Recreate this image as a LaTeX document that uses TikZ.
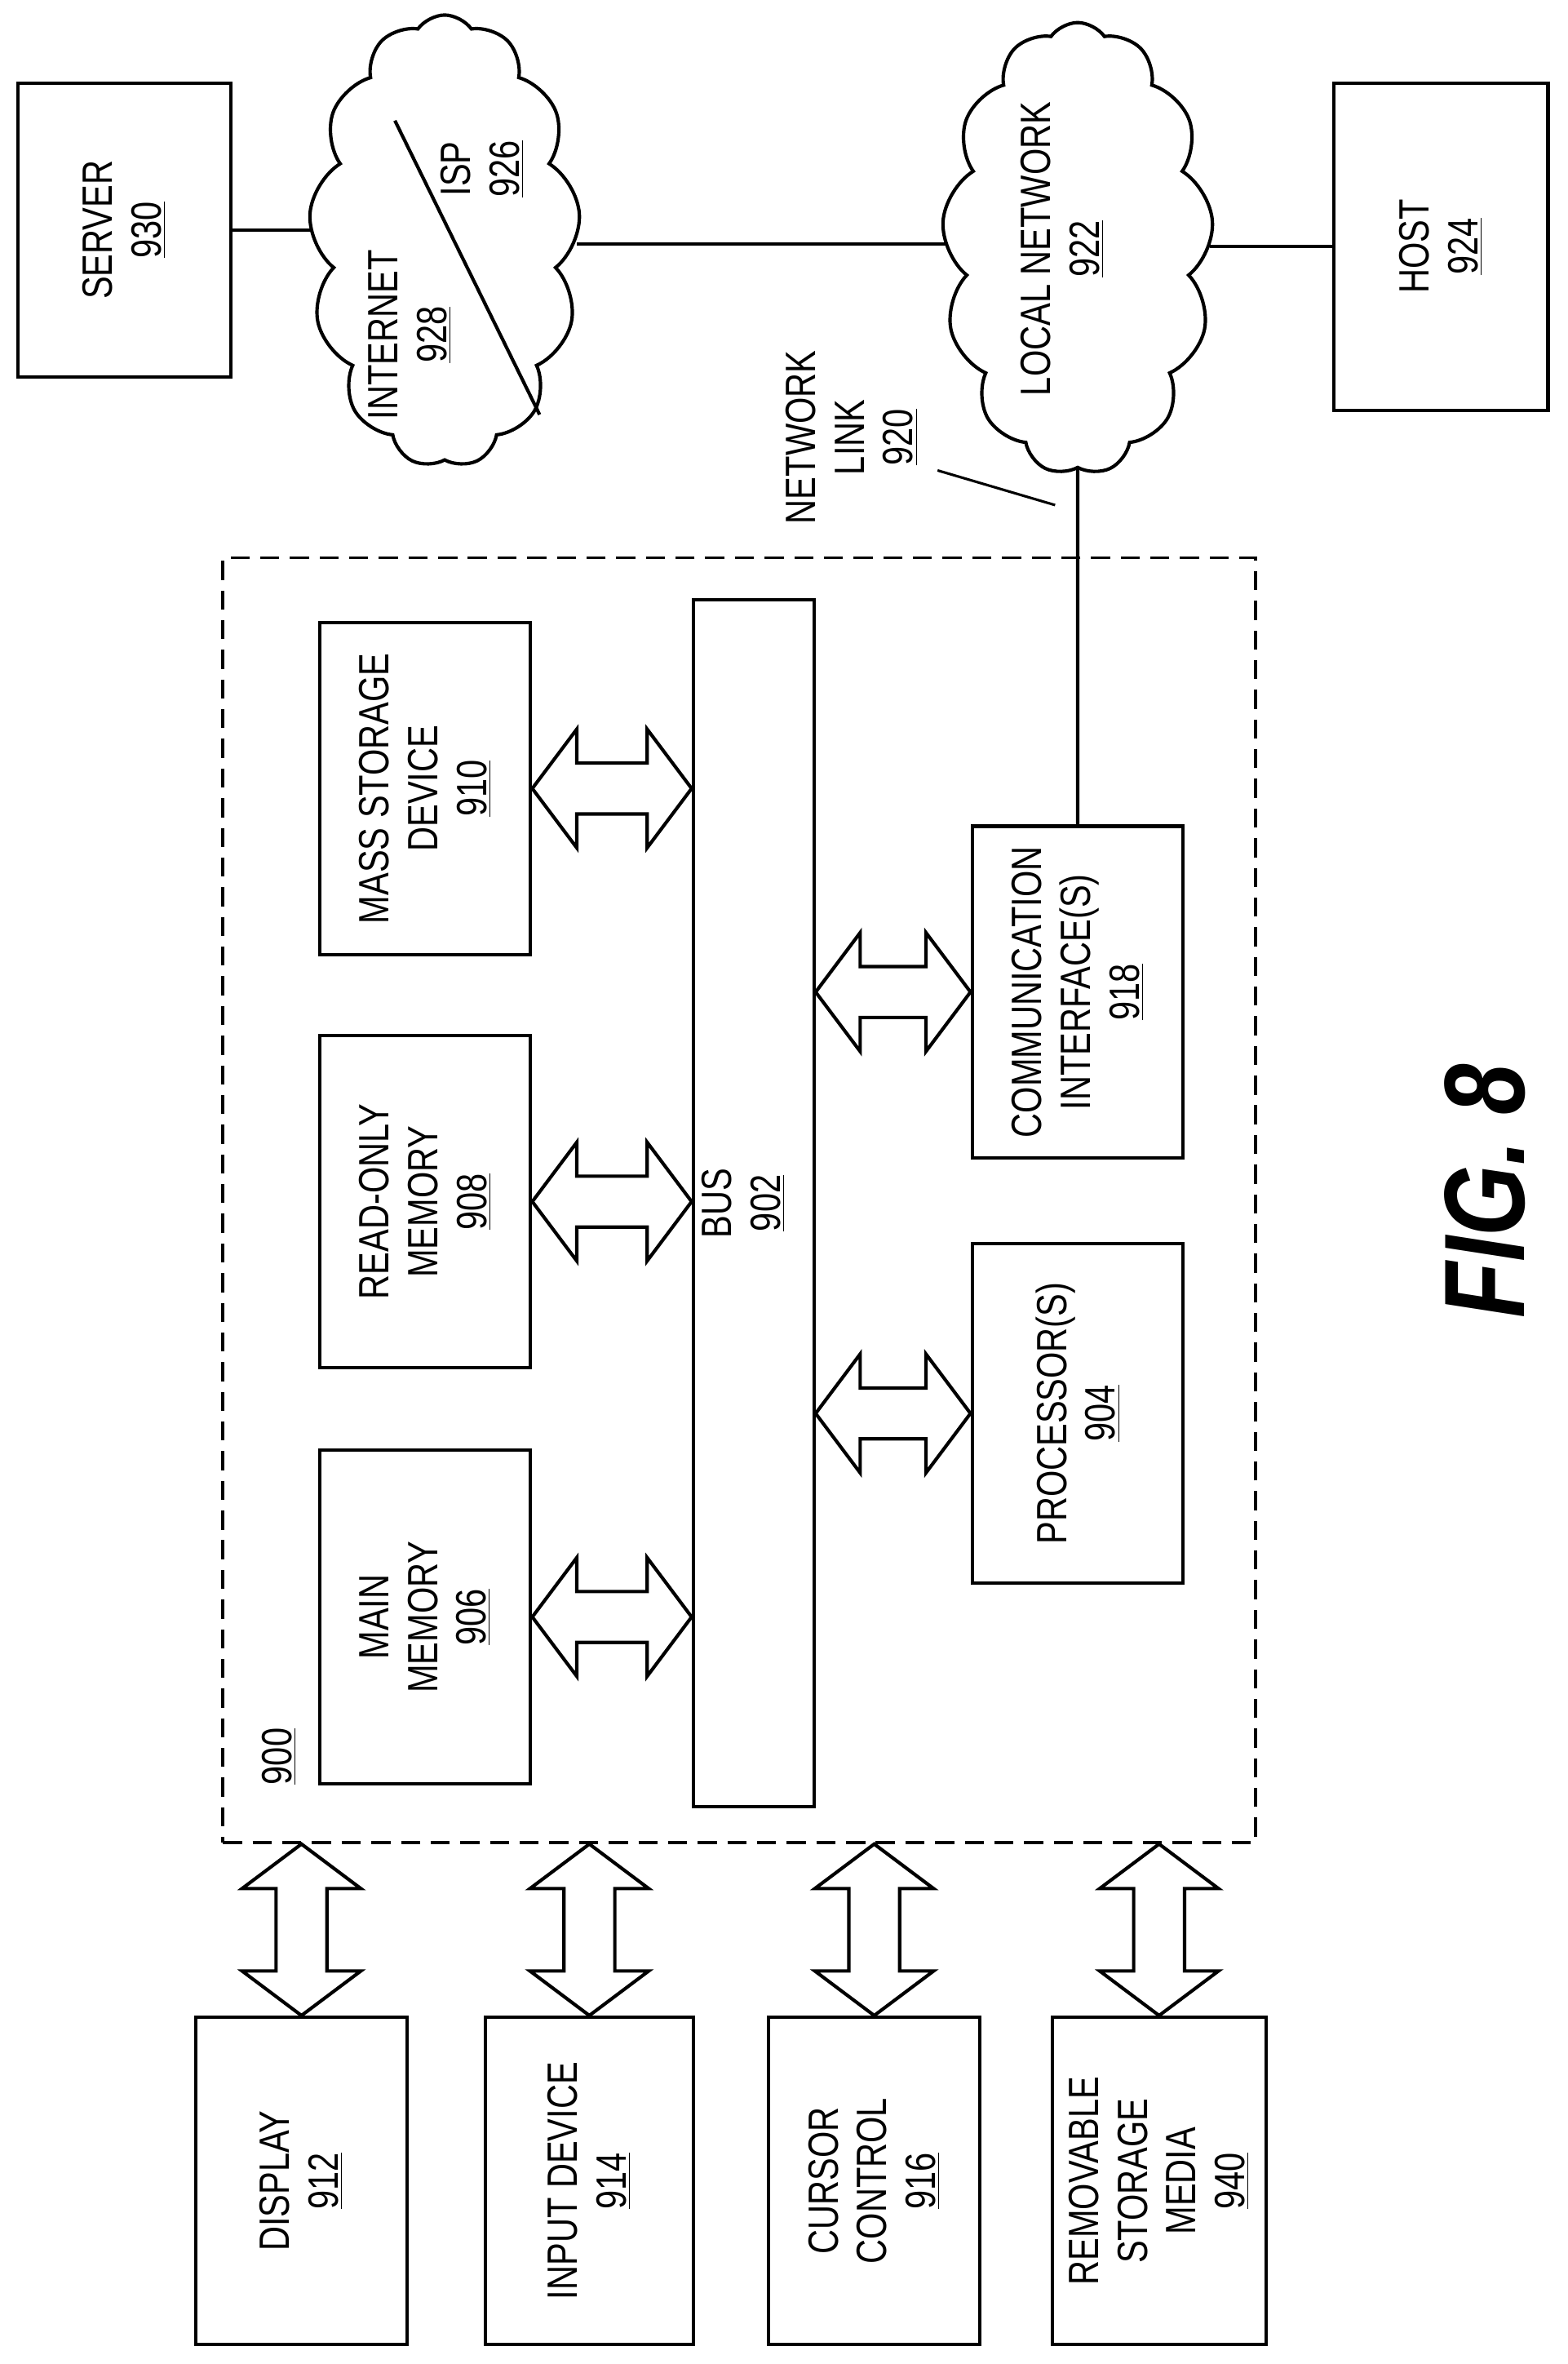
\documentclass[tikz,border=0pt]{standalone}
\usepackage{fontspec}
\setmainfont{Liberation Sans}[FakeStretch=0.8]
\usetikzlibrary{calc,shapes.symbols}

% double-headed block arrows between two points
\newcommand\harr[2]{%
  \draw[blk] let \p1=(#1), \p2=(#2) in
    (\x1,\y1) -- (\x1+21pt,\y1+28pt) -- (\x1+21pt,\y1+12pt) -- (\x2-21pt,\y1+12pt)
    -- (\x2-21pt,\y1+28pt) -- (\x2,\y1) -- (\x2-21pt,\y1-28pt) -- (\x2-21pt,\y1-12pt)
    -- (\x1+21pt,\y1-12pt) -- (\x1+21pt,\y1-28pt) -- cycle;}
\newcommand\varr[2]{%
  \draw[blk] let \p1=(#1), \p2=(#2) in
    (\x1,\y1) -- (\x1+28pt,\y1-21pt) -- (\x1+12pt,\y1-21pt) -- (\x1+12pt,\y2+21pt)
    -- (\x1+28pt,\y2+21pt) -- (\x1,\y2) -- (\x1-28pt,\y2+21pt) -- (\x1-12pt,\y2+21pt)
    -- (\x1-12pt,\y1-21pt) -- (\x1-28pt,\y1-21pt) -- cycle;}

\begin{document}
\begin{tikzpicture}[x=0.025cm,y=-0.025cm,
  every node/.style={font=\fontsize{20}{23}\selectfont, align=center},
  box/.style={draw, line width=1.6pt, rotate=90, inner sep=0pt},
  net/.style={draw, line width=1.6pt, cloud, cloud puffs=13, cloud puff arc=110,
    minimum width=4.5cm, minimum height=7.5cm, inner sep=0pt},
  blk/.style={line width=1.6pt, fill=white},
  lnk/.style={line width=1.6pt}]
\useasboundingbox (0,0) rectangle (1040,1568);

% network side
\node[box, minimum width=4.875cm, minimum height=3.525cm] (server) at (82.5,152.5) {SERVER\\\underline{930}};
\node[net] (inet) at (295,160) {};
\node[net] (local) at (715,165) {};
\node[box, minimum width=5.425cm, minimum height=3.55cm] (host) at (956,163.5) {HOST\\\underline{924}};
\coordinate (isp1) at (262,80);
\coordinate (isp2) at (358,275);
\draw[lnk] (isp1) -- (isp2);
\node[rotate=90] (inettxt) at (272,222) {INTERNET\\\underline{928}};
\node[rotate=90] (isptxt) at (320,112) {ISP\\\underline{926}};
\node[rotate=90] (localtxt) at (705,165) {LOCAL NETWORK\\\underline{922}};
\draw[lnk] (server.south) -- (server.south -| inet.west);
\draw[lnk] (inet.east |- 0,162) -- (local.west |- 0,162);
\draw[lnk] (local.east |- host) -- (host.north);

% computer system
\node[draw, dash pattern=on 9pt off 5pt, line width=1.4pt, minimum width=17.125cm, minimum height=21.3cm] (sys) at (490.5,796) {};
\node[rotate=90] (syslbl) at (185,1165) {\underline{900}};
\node[draw, line width=1.6pt, minimum width=2cm, minimum height=20cm, inner sep=0pt] (bus) at (500,798) {};
\node[rotate=90] (bustxt) at (493,798) {BUS\\\underline{902}};
\node[box, minimum width=5.5cm, minimum height=3.5cm] (mass) at (282,523) {MASS STORAGE\\DEVICE\\\underline{910}};
\node[box, minimum width=5.5cm, minimum height=3.5cm] (rom) at (282,797) {READ-ONLY\\MEMORY\\\underline{908}};
\node[box, minimum width=5.525cm, minimum height=3.5cm] (main) at (282,1072.5) {MAIN\\MEMORY\\\underline{906}};
\node[box, minimum width=5.5cm, minimum height=3.5cm] (comm) at (715,658) {COMMUNICATION\\INTERFACE(S)\\\underline{918}};
\node[box, minimum width=5.625cm, minimum height=3.5cm] (proc) at (715,937.5) {PROCESSOR(S)\\\underline{904}};
\harr{mass.south}{bus.west |- mass}
\harr{rom.south}{bus.west |- rom}
\harr{main.south}{bus.west |- main}
\harr{bus.east |- comm}{comm.north}
\harr{bus.east |- proc}{proc.north}

% network link
\draw[lnk] (comm.east) -- (local.south);
\node[rotate=90] (linktxt) at (565,290) {NETWORK\\LINK\\\underline{920}};
\coordinate (lead1) at (622,312);
\coordinate (lead2) at (700,335);
\draw[line width=1.2pt] (lead1) -- (lead2);

% peripherals
\node[box, minimum width=5.425cm, minimum height=3.5cm] (disp) at (200,1446.5) {DISPLAY\\\underline{912}};
\node[box, minimum width=5.425cm, minimum height=3.45cm] (input) at (391,1446.5) {INPUT DEVICE\\\underline{914}};
\node[box, minimum width=5.425cm, minimum height=3.5cm] (cursor) at (580,1446.5) {CURSOR\\CONTROL\\\underline{916}};
\node[box, minimum width=5.425cm, minimum height=3.55cm] (media) at (769,1446.5) {REMOVABLE\\STORAGE\\MEDIA\\\underline{940}};
\varr{disp.east |- sys.south}{disp.east}
\varr{input.east |- sys.south}{input.east}
\varr{cursor.east |- sys.south}{cursor.east}
\varr{media.east |- sys.south}{media.east}

\node[rotate=90, font=\fontsize{54}{60}\selectfont\bfseries\itshape] (fig) at (985,790) {FIG. 8};
\end{tikzpicture}
\end{document}
